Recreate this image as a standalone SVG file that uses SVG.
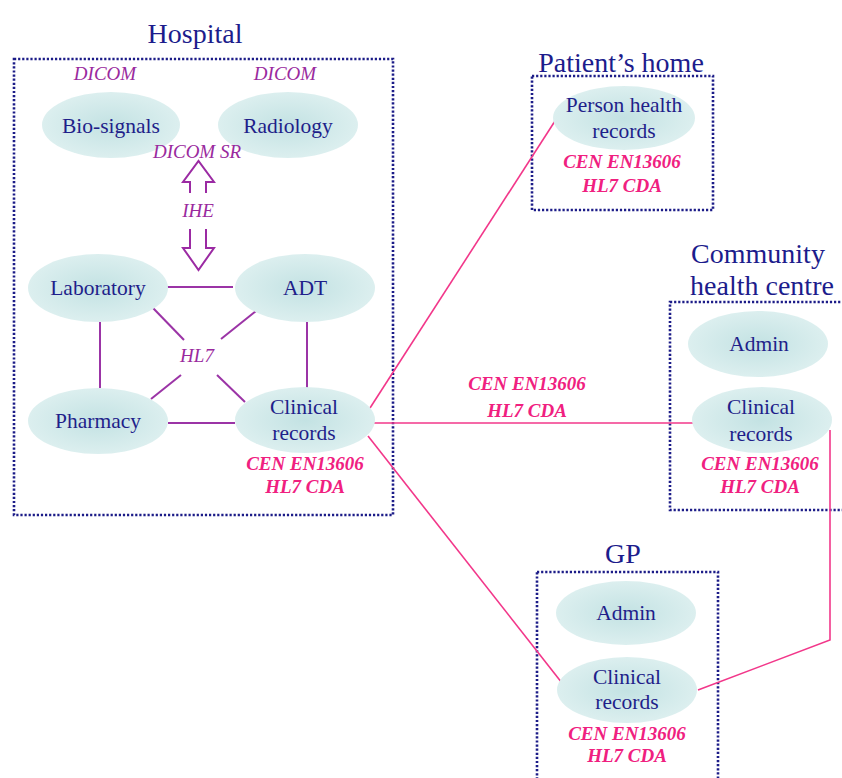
<svg xmlns="http://www.w3.org/2000/svg" width="842" height="778" viewBox="0 0 842 778">
  <defs>
    <radialGradient id="nodeFill" cx="50%" cy="50%" r="50%">
      <stop offset="0" stop-color="#c3e2e3"/>
      <stop offset="1" stop-color="#dcefef"/>
    </radialGradient>
    <style>
      .site { fill: none; stroke: #1c1c88; stroke-width: 2.6; stroke-dasharray: 2.2 1.9; }
      .title { font-family: "Liberation Serif", "Times New Roman", serif; font-size: 28px; fill: #1c1c8c; text-anchor: middle; }
      .node ellipse { fill: url(#nodeFill); }
      .node text { font-family: "Liberation Serif", "Times New Roman", serif; font-size: 21.5px; fill: #1f1f8a; text-anchor: middle; }
      .std { font-family: "Liberation Serif", "Times New Roman", serif; font-size: 19px; font-style: italic; fill: #9a2a9e; text-anchor: middle; }
      .cda, .node text.cda { font-family: "Liberation Serif", "Times New Roman", serif; font-size: 19px; font-style: italic; font-weight: bold; fill: #f0207f; text-anchor: middle; }
      .hl7 { stroke: #9b34a6; stroke-width: 2; fill: none; }
      .ext { stroke: #f2378a; stroke-width: 1.6; fill: none; }
      .arrow { fill: #ffffff; stroke: #9b2aa3; stroke-width: 2; stroke-linejoin: miter; }
    </style>
  </defs>
  <rect width="842" height="778" fill="#ffffff"/>

  <!-- site boundaries -->
  <g id="sites">
    <rect class="site" x="14" y="59" width="379" height="456"/>
    <rect class="site" x="532" y="76" width="181" height="134"/>
    <rect class="site" x="670" y="302" width="190" height="208"/>
    <rect class="site" x="537" y="572" width="181" height="220"/>
    <text class="title" x="195" y="43">Hospital</text>
    <text class="title" x="621" y="72">Patient’s home</text>
    <text class="title" x="758" y="263">Community</text>
    <text class="title" x="762" y="295">health centre</text>
    <text class="title" x="623" y="563">GP</text>
  </g>

  <!-- connectors -->
  <g id="connectors">
    <line class="hl7" x1="167" y1="287" x2="233" y2="287"/>
    <line class="hl7" x1="168" y1="423" x2="235" y2="423"/>
    <line class="hl7" x1="100" y1="322" x2="100" y2="388"/>
    <line class="hl7" x1="307" y1="322" x2="307" y2="388"/>
    <line class="hl7" x1="153" y1="308" x2="184" y2="340"/>
    <line class="hl7" x1="256" y1="311" x2="221" y2="339"/>
    <line class="hl7" x1="151" y1="399" x2="181" y2="375"/>
    <line class="hl7" x1="217" y1="375" x2="245" y2="402"/>
    <path class="arrow" d="M190 193 V182 H183 L198.5 161 L214 182 H206 V193"/>
    <path class="arrow" d="M190 229 V248 H183 L198.5 270 L214 248 H206 V229"/>
    <line class="ext" x1="370" y1="408" x2="555" y2="121"/>
    <line class="ext" x1="372" y1="423" x2="693" y2="423"/>
    <line class="ext" x1="368" y1="436" x2="562" y2="683"/>
    <polyline class="ext" points="830,430 830,640 698,690"/>
  </g>

  <g id="bio-signals" class="node">
    <ellipse cx="111" cy="125" rx="69" ry="33"/>
    <text x="111" y="133">Bio-signals</text>
  </g>
  <g id="radiology" class="node">
    <ellipse cx="288" cy="125" rx="70" ry="33"/>
    <text x="288" y="133">Radiology</text>
  </g>
  <g id="laboratory" class="node">
    <ellipse cx="98" cy="288" rx="70" ry="34"/>
    <text x="98" y="295">Laboratory</text>
  </g>
  <g id="adt" class="node">
    <ellipse cx="305" cy="288" rx="70" ry="34"/>
    <text x="305" y="295">ADT</text>
  </g>
  <g id="pharmacy" class="node">
    <ellipse cx="98" cy="421" rx="70" ry="33"/>
    <text x="98" y="428">Pharmacy</text>
  </g>
  <g id="hospital-clinical" class="node">
    <ellipse cx="305" cy="420" rx="70" ry="33"/>
    <text x="304" y="414">Clinical</text>
    <text x="304" y="440">records</text>
    <text class="cda" x="305" y="470">CEN EN13606</text>
    <text class="cda" x="305" y="493">HL7 CDA</text>
  </g>
  <g id="person-health" class="node">
    <ellipse cx="624" cy="118" rx="71" ry="32"/>
    <text x="624" y="112">Person health</text>
    <text x="624" y="138">records</text>
    <text class="cda" x="622" y="168">CEN EN13606</text>
    <text class="cda" x="622" y="192">HL7 CDA</text>
  </g>
  <g id="community-admin" class="node">
    <ellipse cx="758" cy="344" rx="70" ry="33"/>
    <text x="759" y="351">Admin</text>
  </g>
  <g id="community-clinical" class="node">
    <ellipse cx="762" cy="420" rx="70" ry="33"/>
    <text x="761" y="414">Clinical</text>
    <text x="761" y="441">records</text>
    <text class="cda" x="760" y="470">CEN EN13606</text>
    <text class="cda" x="760" y="493">HL7 CDA</text>
  </g>
  <g id="gp-admin" class="node">
    <ellipse cx="626" cy="613" rx="70" ry="32"/>
    <text x="626" y="620">Admin</text>
  </g>
  <g id="gp-clinical" class="node">
    <ellipse cx="627" cy="690" rx="70" ry="33"/>
    <text x="627" y="684">Clinical</text>
    <text x="627" y="709">records</text>
    <text class="cda" x="627" y="740">CEN EN13606</text>
    <text class="cda" x="627" y="762">HL7 CDA</text>
  </g>

  <!-- standards labels, drawn over the nodes -->
  <g id="labels">
    <text class="std" x="105" y="80">DICOM</text>
    <text class="std" x="285" y="80">DICOM</text>
    <text class="std" x="197" y="158">DICOM SR</text>
    <text class="std" x="198" y="217">IHE</text>
    <text class="std" x="197" y="362">HL7</text>
    <text class="cda" x="527" y="390">CEN EN13606</text>
    <text class="cda" x="527" y="417">HL7 CDA</text>
  </g>
</svg>
